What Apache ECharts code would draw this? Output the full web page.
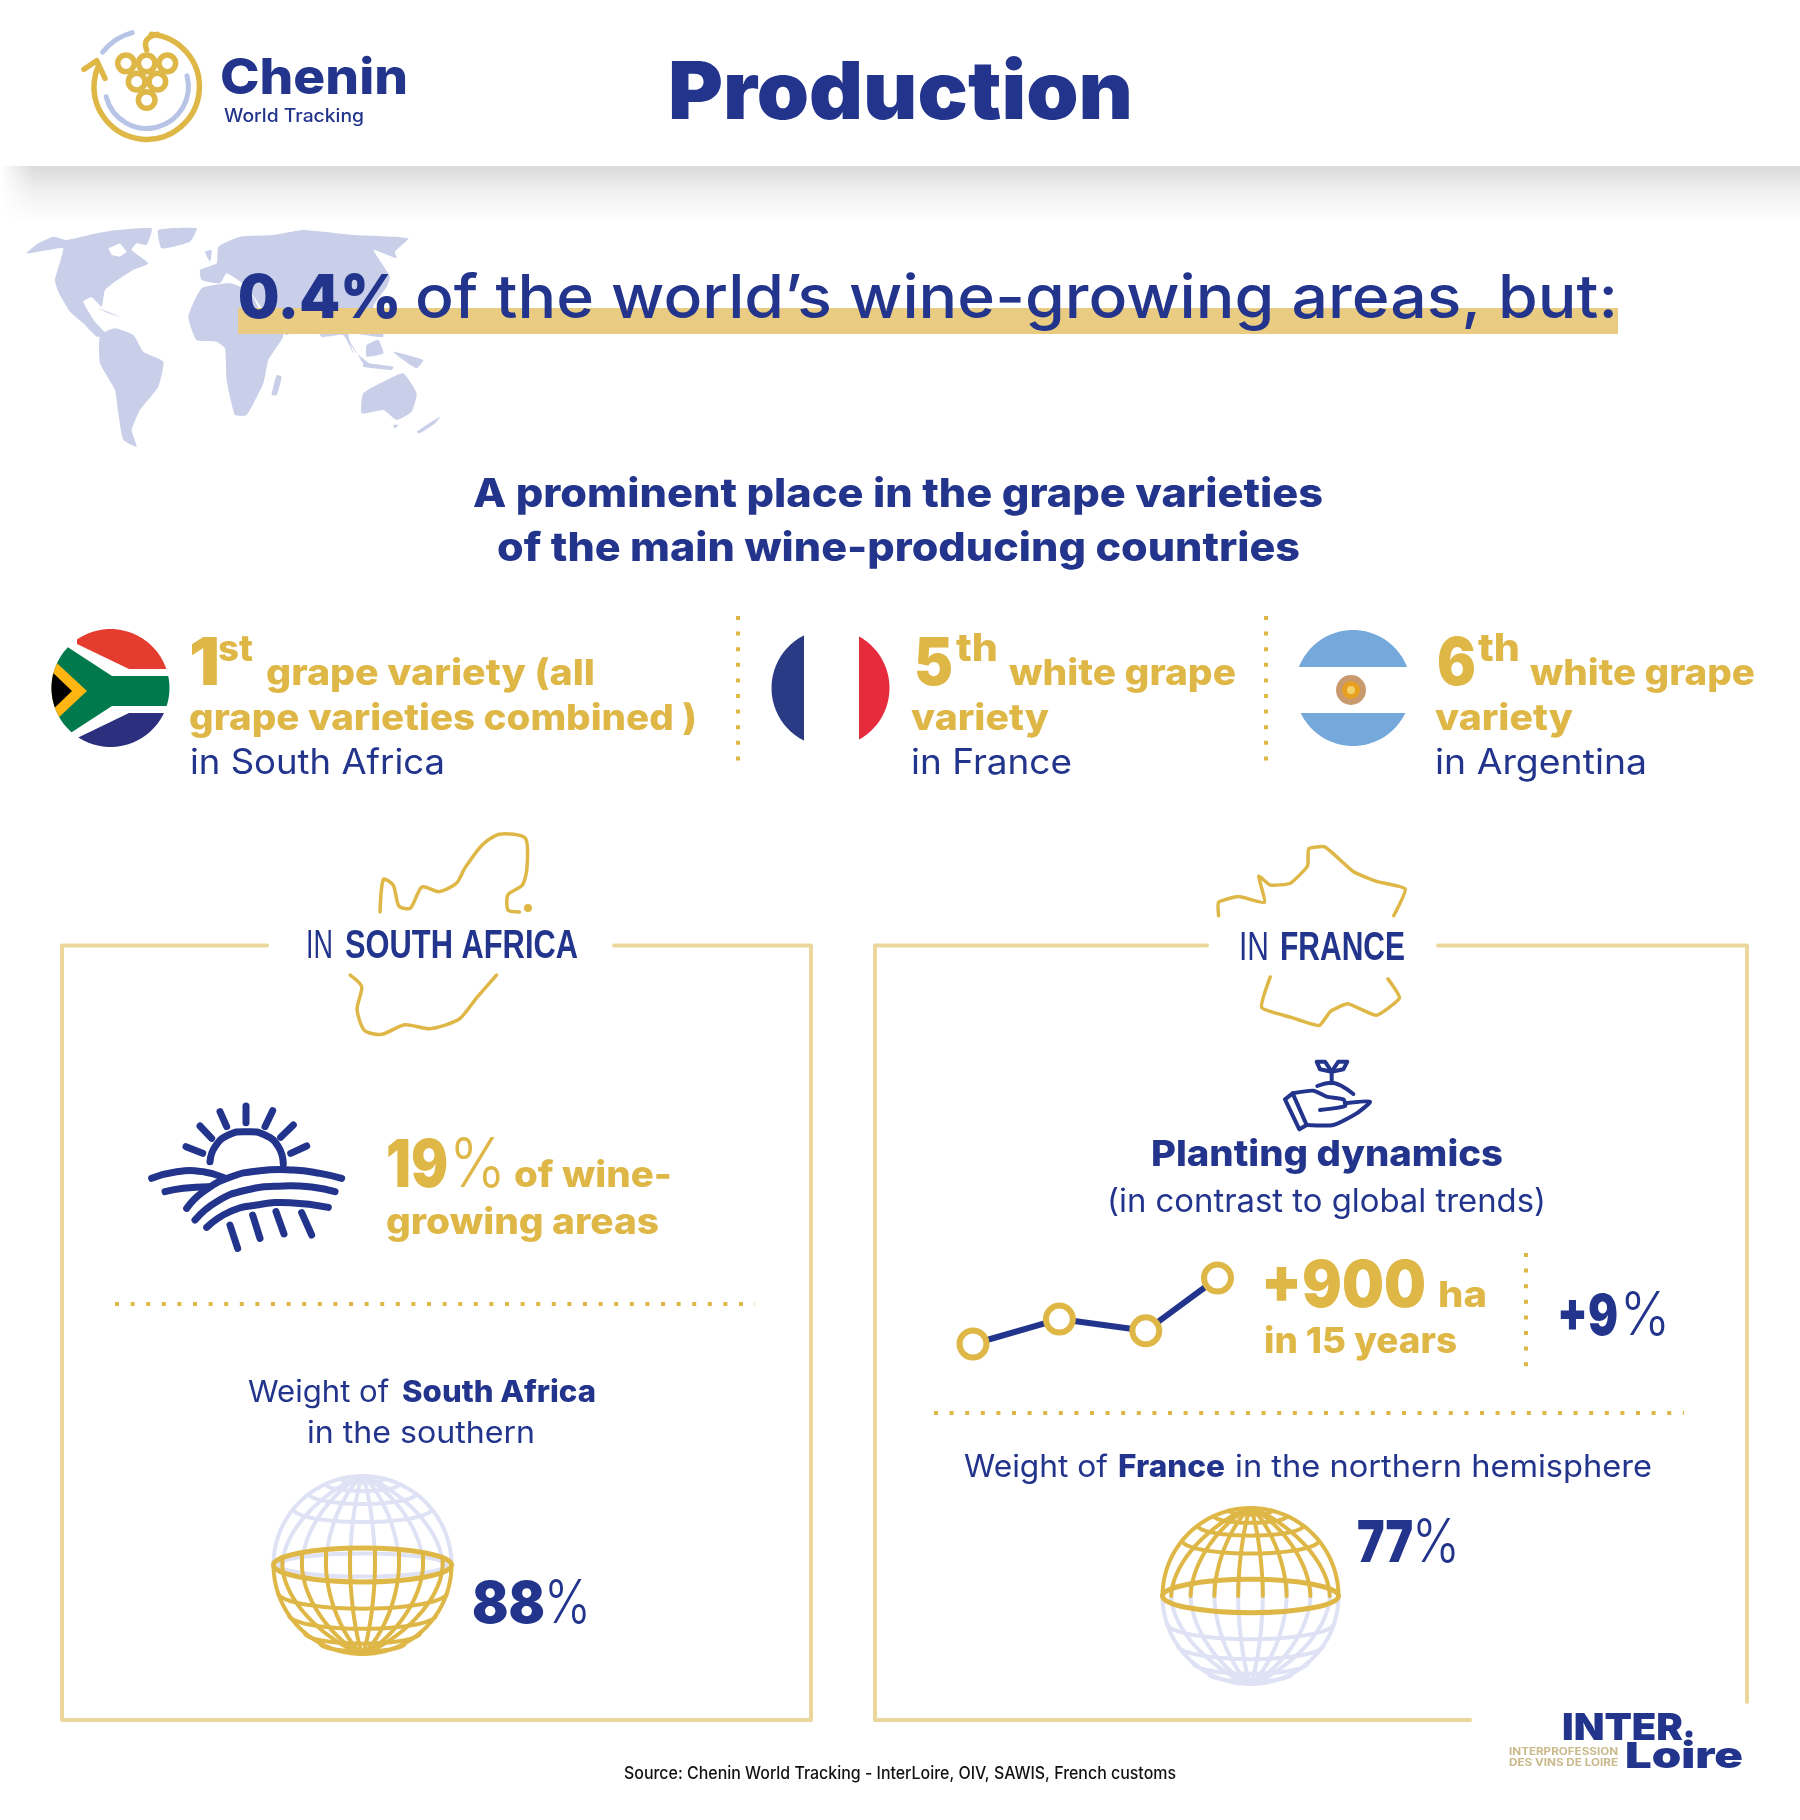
<!DOCTYPE html>
<html>
<head>
<meta charset="utf-8">
<title>Production</title>
<script src="https://cdn.jsdelivr.net/npm/echarts@6/dist/echarts.min.js"></script>
<style>
  html, body { margin: 0; padding: 0; background: #fff; }
  #chart { width: 1800px; height: 1820px; }
</style>
</head>
<body>
<div id="chart"></div>
<script>
// values
const plantingYears = [0, 5.3, 10.6, 15]
const plantingGainHa = [0, 340, 180, 900]
const worldShare = ['0.4%']
const rankLabels = ['1', '5', '6']
const rankSuffixes = ['st', 'th', 'th']
const southAfricaStats = ['19', '88']
const franceStats = ['+900', '+9', '77']

const NAVY = '#22348c'
const GOLD = '#deb747'
const FRAME = '#ebd79c'
const MAP = '#c9cfe9'
const PALE = '#dfe2f4'
const FONT = 'Inter, "Noto Sans", sans-serif'

const ctx = document.createElement('canvas').getContext('2d')
const els = []

// text placed on its alphabetic baseline, stretched to the width seen in the picture
function label(str, x, base, size, weight, color, width, family) {
  const font = `${weight} ${size}px ${family || FONT}`
  ctx.font = font
  ctx.textBaseline = 'middle'
  const w = ctx.measureText(str).width
  const drop = ctx.measureText('H').actualBoundingBoxDescent
  els.push({
    type: 'text',
    x: x,
    y: base - drop,
    scaleX: width ? width / w : 1,
    z: 10,
    style: { text: str, font: font, fill: color, textAlign: 'left', textVerticalAlign: 'middle' },
  })
}

function toPoints(flat, ox, oy, k) {
  const pts = []
  for (let i = 0; i < flat.length; i += 2) {
    pts.push([ox + flat[i] * k, oy + flat[i + 1] * k])
  }
  return pts
}

function stroke(pts, color, lw, smooth, z) {
  els.push({
    type: 'polyline',
    z: z || 5,
    shape: { points: pts, smooth: smooth || 0 },
    style: { stroke: color, lineWidth: lw, fill: null, lineCap: 'round', lineJoin: 'round' },
  })
}

function fill(pts, color, z, smooth) {
  els.push({ type: 'polygon', z: z || 2, shape: { points: pts, smooth: smooth || 0 }, style: { fill: color } })
}

function rect(x, y, w, h, style, z) {
  els.push({ type: 'rect', z: z || 1, shape: { x: x, y: y, width: w, height: h }, style: style })
}

function arc(cx, cy, r, from, to, color, lw) {
  els.push({
    type: 'arc',
    z: 5,
    shape: { cx: cx, cy: cy, r: r, startAngle: (from * Math.PI) / 180, endAngle: (to * Math.PI) / 180, clockwise: true },
    style: { stroke: color, lineWidth: lw, fill: null, lineCap: 'round' },
  })
}

function dots(x1, y1, x2, y2) {
  els.push({
    type: 'line',
    z: 4,
    shape: { x1: x1, y1: y1, x2: x2, y2: y2 },
    style: { stroke: GOLD, lineWidth: 4, lineDash: [4, 11.6] },
  })
}

// clip a polygon to a circle (many sided convex polygon), for the round flags
function clipToCircle(poly, cx, cy, r) {
  let out = poly
  const n = 72
  for (let i = 0; i < n; i++) {
    const a = (i / n) * Math.PI * 2
    const nx = Math.cos(a)
    const ny = Math.sin(a)
    const d = (p) => r * Math.cos(Math.PI / n) - ((p[0] - cx) * nx + (p[1] - cy) * ny)
    const next = []
    out.forEach((p, j) => {
      const q = out[(j + 1) % out.length]
      const dp = d(p)
      const dq = d(q)
      if (dp >= 0) next.push(p)
      if (dp >= 0 !== dq >= 0) {
        const t = dp / (dp - dq)
        next.push([p[0] + (q[0] - p[0]) * t, p[1] + (q[1] - p[1]) * t])
      }
    })
    out = next
  }
  return out
}

function flagPart(poly, color, c) {
  fill(clipToCircle(poly, c[0], c[1], c[2]), color, 4)
}

// one half of the wire globe; dir 1 is the lower half, -1 the upper
function hemisphere(cx, cy, R, dir, color, lw, z) {
  const squash = 0.19
  const levels = dir > 0 ? [0.31, 0.56, 0.76, 0.88] : [-0.63, -0.8, -0.91, -0.97]
  levels.forEach((f) => {
    const y0 = f * R
    const rx = Math.sqrt(R * R - y0 * y0)
    const pts = []
    for (let i = 0; i <= 40; i++) {
      const t = (Math.PI * i) / 40
      pts.push([cx + rx * Math.cos(t), cy + y0 + rx * squash * Math.sin(t)])
    }
    stroke(pts, color, lw, 0, z)
  })
  // meridians stay upright, then gather at the pole
  ;[-0.9, -0.68, -0.41, -0.14, 0.14, 0.41, 0.68, 0.9].forEach((k) => {
    const pts = []
    if (dir > 0) pts.push([cx + k * R, cy - R * squash * Math.sqrt(1 - k * k)])
    for (let i = 0; i <= 30; i++) {
      const u = i / 30
      pts.push([cx + k * R * Math.pow(1 - Math.pow(u, 1.8), 0.8), cy + dir * R * u])
    }
    stroke(pts, color, lw, 0, z)
  })
  const rim = []
  for (let i = 0; i <= 60; i++) {
    const t = (Math.PI * i) / 60
    rim.push([cx + R * Math.cos(t), cy + dir * R * Math.sin(t)])
  }
  stroke(rim, color, lw, 0, z)
}

function globe(cx, cy, R, goldDir) {
  hemisphere(cx, cy, R, -goldDir, PALE, 4, 3)
  if (goldDir > 0) {
    els.push({
      type: 'ellipse',
      z: 3,
      shape: { cx: cx, cy: cy, rx: R - 5, ry: R * 0.13 },
      style: { stroke: PALE, lineWidth: 4, fill: null },
    })
  }
  hemisphere(cx, cy, R, goldDir, GOLD, 4, 4)
  els.push({
    type: 'ellipse',
    z: 4,
    shape: { cx: cx, cy: cy, rx: R, ry: R * 0.19 },
    style: { stroke: GOLD, lineWidth: 5, fill: null },
  })
}

// header
rect(0, 166, 1800, 56, {
  fill: new echarts.graphic.LinearGradient(0, 0, 0, 1, [
    { offset: 0, color: '#dadada' },
    { offset: 0.45, color: '#f0f0f0' },
    { offset: 1, color: '#ffffff' },
  ]),
}, 1)
rect(0, 160, 34, 66, {
  fill: new echarts.graphic.LinearGradient(0, 0, 1, 0, [
    { offset: 0, color: '#ffffff' },
    { offset: 1, color: 'rgba(255,255,255,0)' },
  ]),
}, 1)

// logo
arc(146.7, 86.7, 56, 218, 255, '#b7c4e6', 5)
arc(146.7, 86.7, 41.7, -15, 166, '#b7c4e6', 5)
arc(146.7, 86.7, 52.7, -85, 204, GOLD, 5.5)
const logo = (flat) => toPoints(flat, 70, 20, 1 / 3)
stroke(logo([230, 90, 230, 60, 262, 43]), GOLD, 5.5, 0.5)
stroke(logo([42, 148, 80, 122, 105, 175]), GOLD, 5.5)
toPoints([168, 130, 230, 130, 292, 130, 200, 185, 262, 185, 230, 240], 70, 20, 1 / 3).forEach((p) => {
  els.push({
    type: 'circle',
    z: 5,
    shape: { cx: p[0], cy: p[1], r: 8.3 },
    style: { stroke: GOLD, lineWidth: 5.5, fill: '#fff' },
  })
})
label('Chenin', 220, 94, 50, 800, NAVY, 188)
label('World Tracking', 224, 122, 18, 500, NAVY, 140)
label('Production', 668, 119, 80, 900, NAVY, 465)

// world map, traced at 3x from (20,220)
const world = [
  [20, 100, 55, 70, 100, 50, 140, 60, 230, 40, 290, 30, 395, 25, 380, 75, 350, 70, 335, 90, 385, 130, 340, 150, 300, 175, 255, 210, 245, 260, 215, 232, 190, 245, 225, 305, 260, 345, 230, 350, 190, 310, 150, 275, 115, 215, 105, 180, 130, 85, 85, 90],
  [415, 30, 530, 25, 510, 65, 425, 85],
  [240, 345, 285, 325, 340, 345, 370, 395, 430, 425, 415, 500, 360, 570, 335, 630, 350, 680, 310, 660, 295, 580, 285, 510, 240, 430],
  [505, 290, 545, 205, 630, 190, 690, 215, 720, 270, 790, 345, 745, 420, 730, 490, 680, 585, 645, 585, 620, 480, 615, 385, 590, 365, 530, 360],
  [770, 465, 785, 470, 770, 525, 755, 525],
  [545, 180, 540, 150, 590, 130, 595, 80, 660, 50, 760, 45, 850, 30, 1000, 45, 1165, 55, 1125, 95, 1130, 115, 1090, 100, 1060, 90, 1110, 170, 1100, 200, 1060, 260, 1090, 350, 1000, 340, 985, 345, 1000, 400, 970, 345, 905, 350, 870, 290, 800, 345, 730, 270, 680, 200, 620, 160, 600, 190],
  [985, 355, 1030, 430, 1060, 440, 1005, 395],
  [1040, 375, 1075, 360, 1090, 400, 1040, 410],
  [1120, 395, 1210, 420, 1190, 445, 1150, 420],
  [1030, 430, 1120, 440, 1115, 450, 1030, 440],
  [1030, 520, 1100, 480, 1150, 460, 1190, 520, 1175, 575, 1130, 600, 1090, 570, 1025, 580],
  [1120, 615, 1135, 615, 1125, 625],
  [1190, 635, 1260, 590, 1245, 610, 1200, 640],
  [555, 95, 575, 90, 570, 125],
  [235, 265, 300, 290, 265, 280],
]
world.forEach((w) => fill(toPoints(w, 20, 220, 1 / 3), MAP, 2, 0.15))
fill(toPoints([265, 85, 300, 70, 320, 95, 300, 110, 275, 105], 20, 220, 1 / 3), '#ffffff', 2)

// headline
rect(238, 308, 1380, 26, { fill: '#e9cc82' }, 3)
label(worldShare[0], 238, 318, 60, 900, NAVY, 163)
label('of the world’s wine-growing areas, but:', 415, 318, 60, 500, NAVY, 1203)
label('A prominent place in the grape varieties', 473, 507, 40, 800, NAVY, 850)
label('of the main wine-producing countries', 497, 561, 40, 800, NAVY, 803)

// flags
const za = [110.5, 688, 59]
const fr = [830.5, 688, 59]
const ar = [1353, 688, 58]
flagPart([[77, 644], [129, 669], [175, 669], [175, 620], [77, 620]], '#e43d30', za)
flagPart([[77, 738], [129, 713], [175, 713], [175, 760], [77, 760]], '#2b2f7d', za)
flagPart([[175, 676], [112, 676], [66, 646], [45, 646], [45, 736], [66, 736], [112, 706], [175, 706]], '#007a4d', za)
flagPart([[45, 652], [87, 691], [45, 730]], '#ffb612', za)
flagPart([[45, 665], [72, 691], [45, 717]], '#000000', za)
flagPart([[765, 620], [804, 620], [804, 760], [765, 760]], '#2b3a85', fr)
flagPart([[859, 620], [895, 620], [895, 760], [859, 760]], '#e52b3c', fr)
flagPart([[1290, 625], [1420, 625], [1420, 667], [1290, 667]], '#75a9dc', ar)
flagPart([[1290, 713], [1420, 713], [1420, 752], [1290, 752]], '#75a9dc', ar)
els.push({ type: 'circle', z: 5, shape: { cx: 1351, cy: 690, r: 15 }, style: { fill: '#c89a6d' } })
els.push({ type: 'circle', z: 6, shape: { cx: 1351, cy: 690, r: 9 }, style: { fill: '#e8a020' } })
els.push({ type: 'circle', z: 7, shape: { cx: 1351, cy: 690, r: 4 }, style: { fill: '#f4d16a' } })

// ranks
label(rankLabels[0], 189, 685, 66, 900, GOLD, 31)
label(rankSuffixes[0], 218, 661, 36, 800, GOLD, 35)
label('grape variety (all', 266, 685, 36, 800, GOLD, 329)
label('grape varieties combined )', 189, 730, 36, 800, GOLD, 508)
label('in South Africa', 190, 774, 35, 400, NAVY, 255)
label(rankLabels[1], 914, 685, 66, 900, GOLD, 39)
label(rankSuffixes[1], 956, 661, 38, 800, GOLD, 42)
label('white grape', 1009, 685, 36, 800, GOLD, 227)
label('variety', 911, 730, 36, 800, GOLD, 138)
label('in France', 911, 774, 35, 400, NAVY, 161)
label(rankLabels[2], 1437, 685, 66, 900, GOLD, 39)
label(rankSuffixes[2], 1478, 661, 38, 800, GOLD, 42)
label('white grape', 1530, 685, 36, 800, GOLD, 225)
label('variety', 1435, 730, 36, 800, GOLD, 138)
label('in Argentina', 1435, 774, 35, 400, NAVY, 212)
dots(738, 616, 738, 765)
dots(1266, 616, 1266, 765)

// frames
stroke([[267, 945.5], [62, 945.5], [62, 1720], [811, 1720], [811, 945.5], [614, 945.5]], FRAME, 4)
stroke([[1207, 945.5], [875, 945.5], [875, 1720], [1470, 1720]], FRAME, 4)
stroke([[1438, 945.5], [1747, 945.5], [1747, 1702]], FRAME, 4)

const outline = (flat, ox) => {
  const pts = []
  for (let i = 0; i < flat.length; i += 2) pts.push([ox + flat[i] / 1.742, 600 + flat[i + 1] / 2.613])
  return pts
}
stroke(outline([662, 815, 668, 730, 685, 745, 695, 800, 715, 805, 735, 750, 765, 762, 795, 740, 810, 700, 840, 640, 870, 612, 915, 622, 918, 700, 910, 745, 885, 770, 885, 810, 905, 815], 0), GOLD, 3.5, 0.25)
els.push({ type: 'circle', z: 5, shape: { cx: 528, cy: 908, r: 4 }, style: { fill: GOLD } })
stroke(outline([610, 980, 630, 1010, 622, 1070, 635, 1125, 665, 1135, 705, 1110, 750, 1120, 800, 1095, 830, 1040, 865, 980], 0), GOLD, 3.5, 0.25)
stroke(outline([555, 825, 555, 790, 590, 775, 635, 790, 625, 722, 645, 745, 680, 740, 710, 695, 712, 650, 740, 645, 790, 710, 830, 735, 880, 755, 860, 825], 900), GOLD, 3.5, 0.15)
stroke(outline([645, 985, 630, 1065, 680, 1090, 730, 1112, 750, 1075, 780, 1055, 830, 1085, 870, 1040, 850, 990], 900), GOLD, 3.5, 0.15)

const CONDENSED = '"Liberation Sans", sans-serif'
label('IN', 306, 958, 40, 400, NAVY, 27, CONDENSED)
label('SOUTH AFRICA', 345, 958, 40, 700, NAVY, 233, CONDENSED)
label('IN', 1239, 960, 40, 400, NAVY, 30, CONDENSED)
label('FRANCE', 1280, 960, 40, 700, NAVY, 125, CONDENSED)

// sun over the fields, traced at 3x from (140,1090)
const sun = (flat) => toPoints(flat, 140, 1090, 1 / 3)
;[
  [318, 48, 318, 98], [240, 65, 260, 110], [180, 108, 215, 145], [138, 170, 188, 190],
  [398, 62, 375, 110], [460, 105, 422, 142], [500, 168, 452, 190],
  [270, 405, 293, 475], [338, 375, 360, 445], [408, 365, 432, 432], [485, 368, 515, 435],
].forEach((s) => stroke(sun(s), NAVY, 7))
stroke(sun([210, 215, 225, 170, 265, 135, 320, 125, 375, 135, 415, 170, 430, 222]), NAVY, 7, 0.5)
stroke(sun([35, 265, 110, 245, 190, 245, 250, 262]), NAVY, 7, 0.5)
stroke(sun([140, 355, 190, 305, 270, 262, 360, 242, 460, 240, 540, 250, 605, 265]), NAVY, 7, 0.5)
stroke(sun([75, 305, 130, 295, 205, 290]), NAVY, 7, 0.5)
stroke(sun([165, 390, 230, 335, 320, 300, 430, 288, 520, 292, 585, 305]), NAVY, 7, 0.5)
stroke(sun([200, 412, 270, 365, 350, 345, 450, 338, 565, 352]), NAVY, 7, 0.5)

label(southAfricaStats[0], 386, 1187, 66, 900, GOLD, 62)
label('%', 449, 1187, 68, 300, GOLD, 57)
label('of wine-', 514, 1187, 36, 800, GOLD, 158)
label('growing areas', 386, 1234, 36, 800, GOLD, 273)
dots(115, 1304, 755, 1304)
label('Weight of ', 248, 1402, 30, 400, NAVY, 150)
label('South Africa', 402, 1402, 30, 800, NAVY, 194)
label('in the southern', 307, 1443, 30, 400, NAVY, 228)
globe(362.5, 1565, 89, 1)
label(southAfricaStats[1], 472, 1623, 58, 900, NAVY, 73)
label('%', 544, 1623, 60, 300, NAVY, 47)

// plant in hand, traced at 3x from (1270,1050)
const plant = (flat) => toPoints(flat, 1270, 1050, 1 / 3)
stroke(plant([185, 65, 165, 35, 140, 35, 150, 58, 185, 65]), NAVY, 4)
stroke(plant([185, 65, 205, 35, 232, 35, 220, 58, 185, 65]), NAVY, 4)
stroke(plant([185, 65, 185, 100]), NAVY, 4)
stroke(plant([142, 108, 185, 98, 215, 108, 250, 132]), NAVY, 4, 0.4)
stroke(plant([45, 148, 68, 130, 110, 225, 88, 238, 45, 148]), NAVY, 4)
stroke(plant([68, 130, 130, 122, 170, 140, 220, 148, 225, 168, 150, 180]), NAVY, 4, 0.2)
stroke(plant([225, 160, 300, 155, 260, 190, 190, 225, 110, 225]), NAVY, 4, 0.2)

label('Planting dynamics', 1151, 1166, 36, 800, NAVY, 352)
label('(in contrast to global trends)', 1107, 1212, 32, 400, NAVY, 439)
label(franceStats[0], 1261, 1307, 64, 900, GOLD, 165)
label('ha', 1438, 1307, 36, 800, GOLD, 49)
label('in 15 years', 1264, 1353, 36, 800, GOLD, 193)
dots(1526, 1253, 1526, 1368)
label(franceStats[1], 1557, 1335, 56, 900, NAVY, 61)
label('%', 1620, 1335, 60, 300, NAVY, 50)
dots(934, 1413, 1684, 1413)
label('Weight of ', 964, 1477, 31, 400, NAVY, 153)
label('France', 1118, 1477, 31, 800, NAVY, 107)
label('in the northern hemisphere', 1235, 1477, 31, 400, NAVY, 417)
globe(1250.5, 1596, 88, -1)
label(franceStats[2], 1357, 1562, 58, 900, NAVY, 56)
label('%', 1412, 1562, 60, 300, NAVY, 48)

// footer
label('Source: Chenin World Tracking - InterLoire, OIV, SAWIS, French customs', 624, 1779, 17, 500, '#111111', 552)
label('INTER', 1562, 1740, 37, 900, NAVY, 121)
els.push({ type: 'circle', z: 5, shape: { cx: 1689, cy: 1734, r: 3.5 }, style: { fill: NAVY } })
label('Loire', 1625, 1768, 36, 900, NAVY, 118)
label('INTERPROFESSION', 1509, 1755, 10, 700, '#c9b98b', 109)
label('DES VINS DE LOIRE', 1509, 1766, 10, 700, '#c9b98b', 109)

const chart = echarts.init(document.getElementById('chart'), null, { renderer: 'canvas' })
chart.setOption({
  animation: false,
  backgroundColor: '#ffffff',
  graphic: { elements: els },
  grid: { left: 973, top: 1278, width: 244.5, height: 66 },
  xAxis: { type: 'value', show: false, min: 0, max: 15 },
  yAxis: { type: 'value', show: false, min: 0, max: 900 },
  series: [
    {
      type: 'line',
      z: 6,
      clip: false,
      data: plantingYears.map((year, i) => [year, plantingGainHa[i]]),
      symbol: 'circle',
      symbolSize: 27,
      lineStyle: { color: NAVY, width: 6 },
      itemStyle: { color: '#ffffff', borderColor: GOLD, borderWidth: 6 },
    },
  ],
})
</script>
</body>
</html>
